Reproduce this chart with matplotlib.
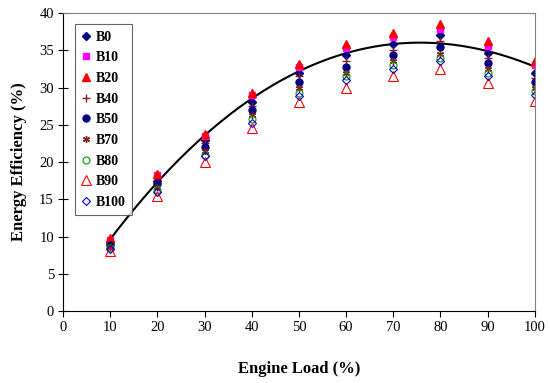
import numpy as np
import matplotlib.pyplot as plt

plt.rcParams['font.family'] = ['Liberation Serif', 'DejaVu Serif']

# carga do motor (%)
load = [10, 20, 30, 40, 50, 60, 70, 80, 90, 100]

# eficiencia energetica (%) por mistura
b0 = [9.2, 17.5, 23.0, 28.0, 32.0, 34.3, 35.8, 37.0, 34.6, 32.0]
b10 = [9.5, 18.2, 23.5, 29.0, 32.8, 35.3, 36.8, 37.8, 35.6, 33.0]
b20 = [9.8, 18.4, 23.8, 29.2, 33.2, 35.8, 37.3, 38.5, 36.2, 33.5]
b40 = [9.0, 17.2, 22.5, 27.5, 31.5, 33.5, 35.0, 36.2, 34.0, 31.3]
b50 = [8.8, 17.0, 22.0, 27.0, 30.8, 32.8, 34.3, 35.5, 33.3, 30.7]
b70 = [8.6, 16.6, 21.5, 26.3, 30.0, 32.0, 33.5, 34.5, 32.5, 30.0]
b80 = [8.4, 16.3, 21.0, 25.8, 29.3, 31.5, 33.0, 34.0, 32.0, 29.5]
b90 = [8.0, 15.5, 20.0, 24.6, 28.0, 30.0, 31.5, 32.5, 30.6, 28.2]
b100 = [8.3, 16.0, 20.8, 25.3, 28.8, 31.0, 32.5, 33.5, 31.5, 29.0]

# linha de tendencia
trend = [9.5, 17.5, 23.5, 28.5, 32.2, 34.5, 35.8, 36.0, 35.0, 32.7]

series = [
    ('B0', b0, dict(marker='D', color='#000080', mfc='#000080', ms=4)),
    ('B10', b10, dict(marker='s', color='#FF00FF', mfc='#FF00FF', ms=4.5)),
    ('B20', b20, dict(marker='^', color='#FF0000', mfc='#FF0000', ms=6)),
    ('B40', b40, dict(marker='+', color='#8B1A1A', ms=5.5, mew=1)),
    ('B50', b50, dict(marker='o', color='#000080', mfc='#000080', ms=5)),
    ('B70', b70, dict(marker=(6, 2, 0), color='#8B1A1A', ms=5, mew=1)),
    ('B80', b80, dict(marker='o', color='#009900', mfc='none', ms=5, mew=0.8)),
    ('B90', b90, dict(marker='^', color='#FF0000', mfc='none', ms=6.5, mew=0.8)),
    ('B100', b100, dict(marker='D', color='#0000CC', mfc='none', ms=4.5, mew=0.8)),
]

fig = plt.figure(figsize=(5.5, 3.83), dpi=100)
ax = fig.add_axes([0.1145, 0.188, 0.858, 0.778])

for name, vals, style in series:
    ax.plot(load, vals, linestyle='none', label=name, **style)

coef = np.polyfit(load, trend, 3)
xs = np.linspace(10, 100, 200)
ax.plot(xs, np.polyval(coef, xs), color='black', lw=1.5, zorder=1)

ax.set_xlim(0, 100)
ax.set_ylim(0, 40)
ax.set_xticks(range(0, 101, 10))
ax.set_yticks(range(0, 41, 5))
ax.tick_params(axis='x', direction='out', length=4, labelsize=10.5, pad=3)
ax.tick_params(axis='y', direction='inout', length=7, labelsize=10.5, pad=3)
ax.spines['top'].set_color('#808080')
ax.spines['right'].set_color('#808080')

ax.set_xlabel('Engine Load (%)', fontsize=12, fontweight='bold', labelpad=20)
ax.set_ylabel('Energy Efficiency (%)', fontsize=12, fontweight='bold', labelpad=9)

leg = ax.legend(loc='upper left', bbox_to_anchor=(0.01, 0.985), frameon=True,
                fancybox=False, edgecolor='#404040', handlelength=0.8,
                handletextpad=0.3, labelspacing=0.55, borderpad=0.45,
                prop={'weight': 'bold', 'size': 10})
leg.get_frame().set_linewidth(0.8)

fig.savefig('out.png', dpi=100)
